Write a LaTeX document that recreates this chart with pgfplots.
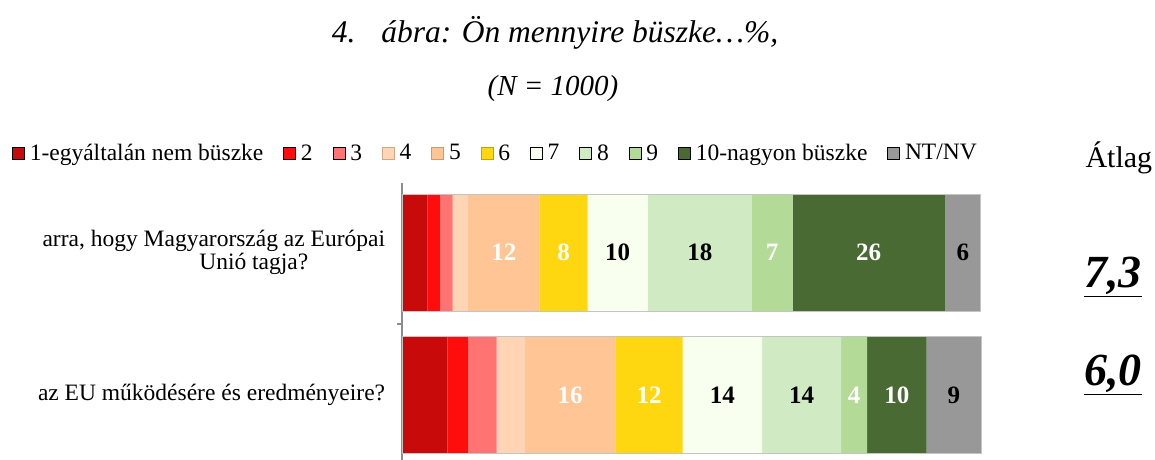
\documentclass[border=0pt]{standalone}
\usepackage{fontspec}
\setmainfont{Liberation Serif}
\usepackage{pgfplots}
\pgfplotsset{compat=1.18}
\usepackage{pgfplotstable}

\definecolor{c1}{HTML}{C80A0A}
\definecolor{c2}{HTML}{FF0D0D}
\definecolor{c3}{HTML}{FF7373}
\definecolor{c4}{HTML}{FFD5B5}
\definecolor{c5}{HTML}{FFC595}
\definecolor{c6}{HTML}{FFD710}
\definecolor{c7}{HTML}{F8FFEF}
\definecolor{c8}{HTML}{D0EBC3}
\definecolor{c9}{HTML}{B4DA98}
\definecolor{c10}{HTML}{4A6A33}
\definecolor{c11}{HTML}{989898}
\definecolor{b4}{HTML}{D0A888}
\definecolor{b5}{HTML}{D09A70}
\definecolor{b6}{HTML}{C8A000}
\definecolor{axgray}{HTML}{8C8C8C}
\definecolor{outl}{HTML}{C4C4C4}

\pgfplotstableread{
y s1 s2 s3 s4 s5 s6 s7 s8 s9 s10 s11
1 4.32 2.19 2.19 2.64 12.39 8.29 10.37 18.02 7.03 26.32 6.22
0 7.78 3.63 4.91 4.89 15.60 11.65 13.70 13.65 4.49 10.32 9.38
}\data

\pgfplotstableread{
x y lab
17.535 1 12
27.875 1 8
63.925 1 7
80.6 1 26
29.01 0 16
42.635 0 12
78.055 0 4
85.46 0 10
}\whitelabels

\pgfplotstableread{
x y lab
37.205 1 10
51.4 1 18
96.87 1 6
55.31 0 14
68.985 0 14
95.31 0 9
}\blacklabels

\pgfplotstableread{
x y
99.98 1
100 0
}\totals

\pgfplotsset{sqleg/.style={legend image code/.code={\draw[##1, line width=0.6pt] (0pt,-6pt) rectangle (12pt,6pt);}}}

\begin{document}
\begin{tikzpicture}
\path[use as bounding box] (0,0) rectangle (1155pt,459pt);

\node[anchor=base, font=\fontsize{31.5}{31.5}\selectfont\itshape] at (555pt,416pt) {4.\hspace{26pt}ábra: Ön mennyire büszke…\%,};
\node[anchor=base, font=\fontsize{29}{29}\selectfont\itshape] at (553pt,364pt) {(N = 1000)};
\node[anchor=base west, font=\fontsize{30}{30}\selectfont] at (1082pt,292pt) {Átlag};

\begin{axis}[
  at={(402.3pt,-5.5pt)}, anchor=south west,
  scale only axis, width=578.7pt, height=281.5pt,
  xbar stacked, bar width=117pt,
  xmin=0, xmax=100, ymin=-0.4877, ymax=1.4877,
  axis x line=none, axis y line*=left,
  y axis line style={draw=axgray, line width=2pt},
  ytick={0,1},
  yticklabels={{az EU működésére és eredményeire?},{arra, hogy Magyarország az Európai\\\hspace*{80pt}Unió tagja?}},
  yticklabel style={align=center, inner sep=0pt, xshift=-17pt, font=\fontsize{23.5}{23.5}\selectfont},
  tick align=outside, major tick length=0pt,
  extra y ticks={0.5,1.5}, extra y tick labels={},
  extra y tick style={major tick length=5pt, tick style={draw=axgray, line width=1.5pt}},
  clip=false,
  legend columns=11,
  legend style={at={(-0.67445,1.1066)}, anchor=west, draw=none, fill=none,
    inner sep=0pt, nodes={inner sep=0pt},
    font=\fontsize{23.5}{23.5}\selectfont,
    /tikz/every odd column/.append style={column sep=5pt},
    /tikz/every even column/.append style={column sep=20pt}},
]
\addplot[fill=c1, draw=none, sqleg] table[x=s1, y=y] {\data};
\addplot[fill=c2, draw=none, sqleg] table[x=s2, y=y] {\data};
\addplot[fill=c3, draw=none, sqleg] table[x=s3, y=y] {\data};
\addplot[fill=c4, draw=none, sqleg, legend image post style={draw=b4}] table[x=s4, y=y] {\data};
\addplot[fill=c5, draw=none, sqleg, legend image post style={draw=b5}] table[x=s5, y=y] {\data};
\addplot[fill=c6, draw=none, sqleg, legend image post style={draw=b6}] table[x=s6, y=y] {\data};
\addplot[fill=c7, draw=none, sqleg] table[x=s7, y=y] {\data};
\addplot[fill=c8, draw=none, sqleg] table[x=s8, y=y] {\data};
\addplot[fill=c9, draw=none, sqleg] table[x=s9, y=y] {\data};
\addplot[fill=c10, draw=none, sqleg] table[x=s10, y=y] {\data};
\addplot[fill=c11, draw=none, sqleg] table[x=s11, y=y] {\data};
\legend{1-egyáltalán nem büszke,2,3,4,5,6,7,8,9,10-nagyon büszke,NT/NV}
\end{axis}

\begin{axis}[
  at={(402.3pt,-5.5pt)}, anchor=south west,
  scale only axis, width=578.7pt, height=281.5pt,
  xmin=0, xmax=100, ymin=-0.4877, ymax=1.4877,
  hide axis, clip=false,
]
\addplot[xbar, bar width=117pt, fill=none, draw=outl, line width=0.8pt] table[x=x, y=y] {\totals};
\addplot[only marks, mark=none, nodes near coords, point meta=explicit symbolic,
  nodes near coords style={anchor=center, text=white, font=\fontsize{25}{25}\selectfont\bfseries}]
  table[x=x, y=y, meta=lab] {\whitelabels};
\addplot[only marks, mark=none, nodes near coords, point meta=explicit symbolic,
  nodes near coords style={anchor=center, text=black, font=\fontsize{25}{25}\selectfont\bfseries}]
  table[x=x, y=y, meta=lab] {\blacklabels};
\node[anchor=base, font=\fontsize{46}{46}\selectfont\bfseries\itshape] at (axis cs:122.8,0.752) {\underline{7,3}};
\node[anchor=base, font=\fontsize{46}{46}\selectfont\bfseries\itshape] at (axis cs:122.8,0.066) {\underline{6,0}};
\end{axis}
\end{tikzpicture}
\end{document}
